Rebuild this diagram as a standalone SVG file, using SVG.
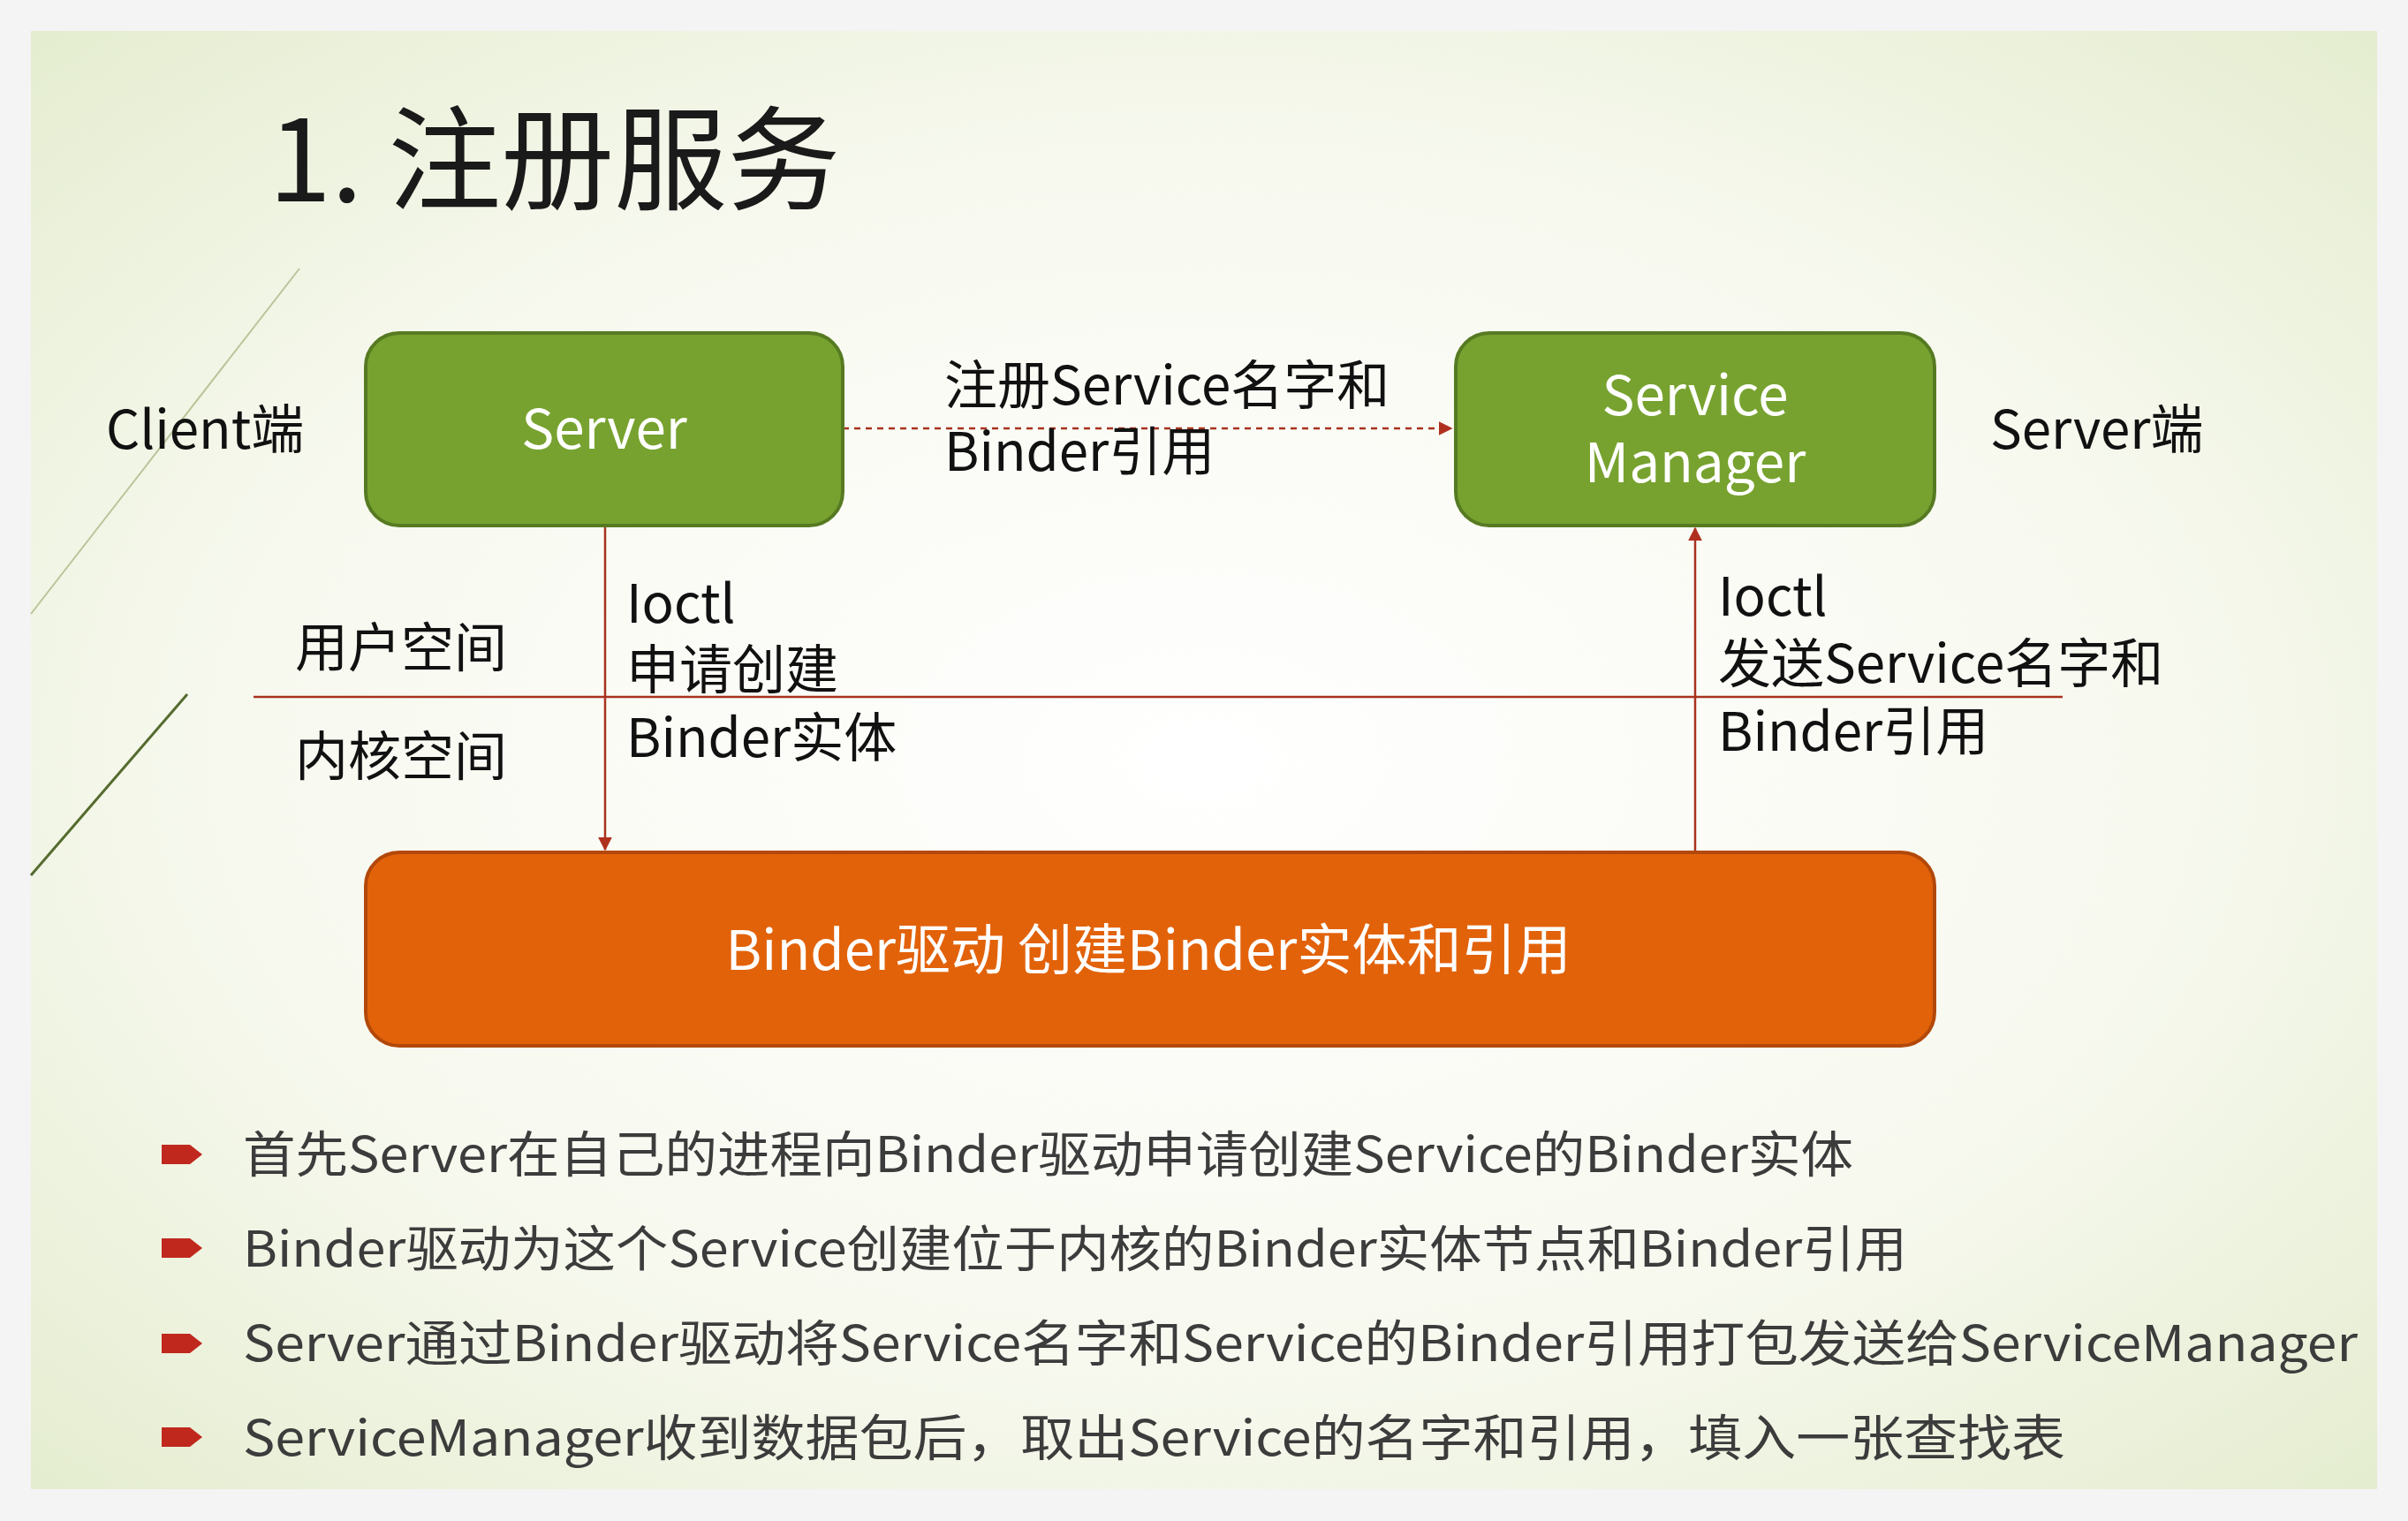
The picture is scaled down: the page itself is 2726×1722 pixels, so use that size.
<svg xmlns="http://www.w3.org/2000/svg" width="2726" height="1722" viewBox="0 0 2726 1722">
<defs>
<radialGradient id="bg" cx="0.5" cy="0.5" r="0.75">
<stop offset="0" stop-color="#ffffff"/><stop offset="0.55" stop-color="#f7f9ef"/><stop offset="1" stop-color="#e2ebcb"/>
</radialGradient>
<marker id="ah" viewBox="0 0 10 10" refX="9" refY="5" markerWidth="9" markerHeight="9" markerUnits="userSpaceOnUse" orient="auto"><path d="M0,0 L10,5 L0,10 z" fill="#b0301f"/></marker>
<marker id="ah2" viewBox="0 0 10 10" refX="9" refY="5" markerWidth="16" markerHeight="16" markerUnits="userSpaceOnUse" orient="auto"><path d="M0,0 L10,5 L0,10 z" fill="#b0301f"/></marker>
<style>
text{font-family:"Noto Sans CJK SC","Noto Sans",sans-serif}
.t{fill:#111;font-size:60px}
.w{fill:#fff;font-size:62px}
.b{fill:#3c3c3c;font-size:56px}
.g rect{fill:#77a22f;stroke:#567a22;stroke-width:4}
.ln{stroke:#a8321e;stroke-width:2.5;fill:none}
.bul{fill:#c0281e}
</style>
</defs>
<rect width="2726" height="1722" fill="#f4f4f4"/>
<rect x="35" y="35" width="2656" height="1651" fill="url(#bg)"/>
<line x1="339" y1="304" x2="35" y2="695" stroke="#b8c59a" stroke-width="2"/>
<line x1="212" y1="786" x2="35" y2="991" stroke="#556b2f" stroke-width="3"/>
<text x="304" y="228" style="font-size:128px;fill:#1a1a1a">1. 注册服务</text>
<g id="connectors">
<line class="ln" x1="954" y1="485" x2="1643" y2="485" stroke-dasharray="7,6" marker-end="url(#ah2)"/>
<line class="ln" x1="685" y1="595" x2="685" y2="962" marker-end="url(#ah2)"/>
<line class="ln" x1="1919" y1="965" x2="1919" y2="598" marker-end="url(#ah2)"/>
<line class="ln" x1="287" y1="789" x2="2335" y2="789" stroke-width="2"/>
</g>
<g id="server" class="g"><rect x="414" y="377" width="540" height="218" rx="38"/><text class="w" x="684" y="508" text-anchor="middle">Server</text></g>
<g id="sm" class="g"><rect x="1648" y="377" width="542" height="218" rx="38"/><text class="w" x="1919" y="470" text-anchor="middle">Service</text><text class="w" x="1919" y="546" text-anchor="middle">Manager</text></g>
<g id="driver"><rect x="414" y="965" width="1776" height="219" rx="38" fill="#e2620a" stroke="#b2480a" stroke-width="4"/><text class="w" x="1300" y="1098" text-anchor="middle">Binder驱动 创建Binder实体和引用</text></g>
<g id="labels">
<text class="t" x="120" y="508">Client端</text>
<text class="t" x="2253" y="508">Server端</text>
<text class="t" x="1069" y="458">注册Service名字和</text>
<text class="t" x="1069" y="533">Binder引用</text>
<text class="t" x="334" y="755">用户空间</text>
<text class="t" x="334" y="878">内核空间</text>
<text class="t" x="709" y="705">Ioctl</text>
<text class="t" x="709" y="780">申请创建</text>
<text class="t" x="709" y="857">Binder实体</text>
<text class="t" x="1945" y="697">Ioctl</text>
<text class="t" x="1945" y="773">发送Service名字和</text>
<text class="t" x="1945" y="850">Binder引用</text>
</g>
<g id="bullets">
<path class="bul" d="M183,1296 L215,1296 L229,1307 L215,1318 L183,1318 z"/>
<path class="bul" d="M183,1402 L215,1402 L229,1413 L215,1424 L183,1424 z"/>
<path class="bul" d="M183,1510 L215,1510 L229,1521 L215,1532 L183,1532 z"/>
<path class="bul" d="M183,1616 L215,1616 L229,1627 L215,1638 L183,1638 z"/>
<text class="b" x="275" y="1327" textLength="1823" lengthAdjust="spacingAndGlyphs">首先Server在自己的进程向Binder驱动申请创建Service的Binder实体</text>
<text class="b" x="275" y="1434" textLength="1884" lengthAdjust="spacingAndGlyphs">Binder驱动为这个Service创建位于内核的Binder实体节点和Binder引用</text>
<text class="b" x="275" y="1541" textLength="2394" lengthAdjust="spacingAndGlyphs">Server通过Binder驱动将Service名字和Service的Binder引用打包发送给ServiceManager</text>
<text class="b" x="275" y="1648" textLength="2063" lengthAdjust="spacingAndGlyphs">ServiceManager收到数据包后，取出Service的名字和引用，填入一张查找表</text>
</g>
</svg>
